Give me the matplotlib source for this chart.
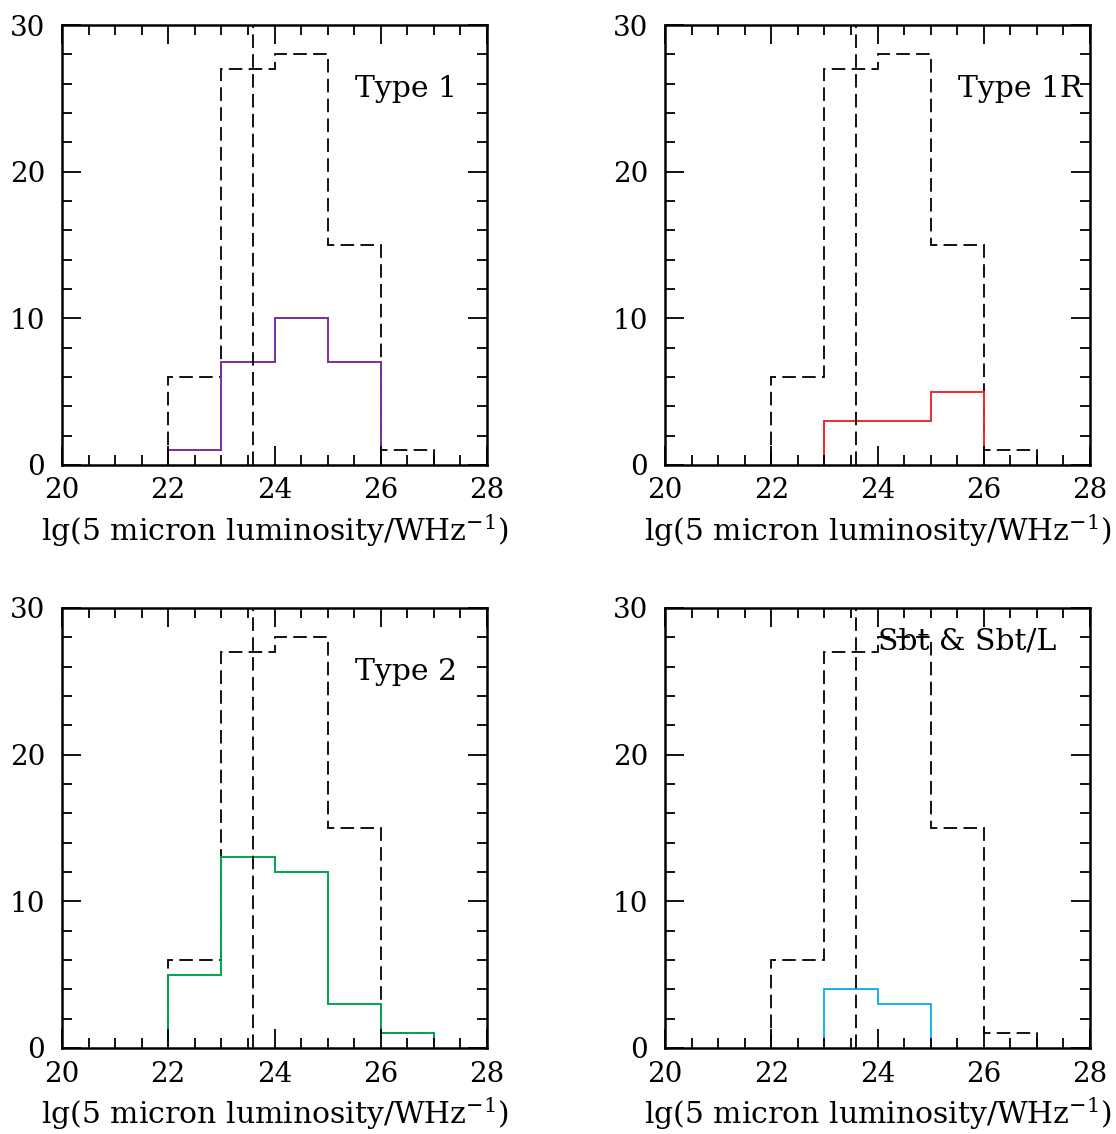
import numpy as np
import matplotlib
matplotlib.use('Agg')
from matplotlib import pyplot as plt
from matplotlib.ticker import MultipleLocator

# bin edges and counts
total_edges = [22, 23, 24, 25, 26, 27]
total_counts = [6, 27, 28, 15, 1]
cut_x = 23.6

type1_edges = [22, 23, 24, 25, 26]
type1_counts = [1, 7, 10, 7]
type1r_edges = [23, 24, 25, 26]
type1r_counts = [3, 3, 5]
type2_edges = [22, 23, 24, 25, 26, 27]
type2_counts = [5, 13, 12, 3, 1]
sbt_edges = [23, 24, 25]
sbt_counts = [4, 3]

panels = [
    ('Type 1', type1_edges, type1_counts, '#7b2f9e', (0.69, 0.855)),
    ('Type 1R', type1r_edges, type1r_counts, '#ee2a2a', (0.69, 0.855)),
    ('Type 2', type2_edges, type2_counts, '#00a650', (0.69, 0.855)),
    ('Sbt & Sbt/L', sbt_edges, sbt_counts, '#14b4ea', (0.50, 0.925)),
]

plt.rcParams['font.family'] = 'DejaVu Serif'
plt.rcParams['mathtext.fontset'] = 'dejavuserif'

fig = plt.figure(figsize=(11.16, 11.34), dpi=100)
W, H = 1116., 1134.
boxes = [(62, 25), (665, 25), (62, 608), (665, 608)]
aw, ah = 425, 440
dash = (0, (7.5, 3.5))

for (name, edges, counts, col, tpos), (x0, y0) in zip(panels, boxes):
    ax = fig.add_axes([x0 / W, 1 - (y0 + ah) / H, aw / W, ah / H])
    ax.stairs(total_counts, total_edges, color='black', linewidth=1.3,
              linestyle=dash)
    ax.plot([cut_x, cut_x], [0, 30], color='black', linewidth=1.3,
            linestyle=dash)
    ax.stairs(counts, edges, color=col, linewidth=1.4)
    ax.set_xlim(20, 28)
    ax.set_ylim(0, 30)
    ax.xaxis.set_major_locator(MultipleLocator(2))
    ax.xaxis.set_minor_locator(MultipleLocator(0.5))
    ax.yaxis.set_major_locator(MultipleLocator(10))
    ax.yaxis.set_minor_locator(MultipleLocator(2))
    ax.tick_params(axis='both', which='major', direction='in', length=14,
                   width=1.3, top=True, right=True, labelsize=20)
    ax.tick_params(axis='x', which='major', pad=9)
    ax.tick_params(axis='y', which='major', pad=12)
    ax.tick_params(axis='both', which='minor', direction='in', length=7,
                   width=1.3, top=True, right=True)
    for s in ax.spines.values():
        s.set_linewidth(1.8)
    ax.set_xlabel('lg(5 micron luminosity/WHz$^{-1}$)', fontsize=21.5,
                  labelpad=6)
    ax.text(tpos[0], tpos[1], name, transform=ax.transAxes, fontsize=21.5,
            ha='left', va='center')

fig.savefig('out.png', dpi=100)
plt.close()
